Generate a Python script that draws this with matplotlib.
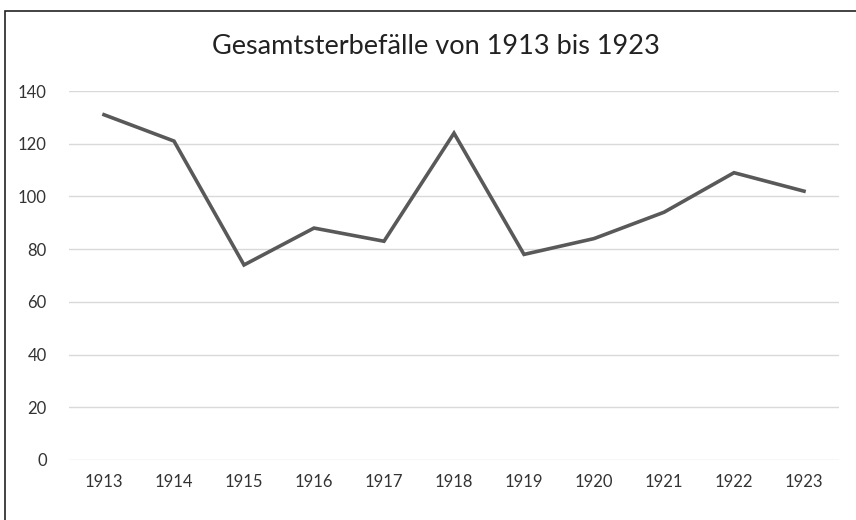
import matplotlib
matplotlib.use("Agg")
import matplotlib.pyplot as plt
from matplotlib.patches import Rectangle

years = ["1913", "1914", "1915", "1916", "1917", "1918", "1919", "1920", "1921", "1922", "1923"]
deaths = [131, 121, 74, 88, 83, 124, 78, 84, 94, 109, 102]
yticks = [0, 20, 40, 60, 80, 100, 120, 140]

plt.rcParams['font.family'] = ['Lato', 'DejaVu Sans']

W, H = 856, 520
fig = plt.figure(figsize=(W / 100, H / 100), dpi=100)
fig.patch.set_facecolor("white")

# outer frame
fig.patches.append(Rectangle((5 / W, -0.1), 1.2, (H - 11) / H + 0.1, transform=fig.transFigure,
                             fill=False, edgecolor="#222222", linewidth=1.2))

left, right = 69 / W, 839 / W
bottom, top = 1 - 460 / H, 1 - 91 / H
ax = fig.add_axes([left, bottom, right - left, top - bottom])

x = list(range(len(years)))
ax.plot(x, deaths, color="#595959", linewidth=2.6, solid_joinstyle="miter")

ax.set_xlim(-0.5, len(years) - 0.5)
ax.set_ylim(0, 140)
ax.set_yticks(yticks)
ax.set_xticks(x)
ax.set_xticklabels(years)
ax.grid(axis="y", color="#d9d9d9", linewidth=1)
ax.set_axisbelow(True)
for s in ax.spines.values():
    s.set_visible(False)
ax.tick_params(length=0, labelsize=12, labelcolor="#333333")
ax.tick_params(axis="y", pad=16)
ax.tick_params(axis="x", pad=10)

fig.text(436 / W, 1 - 47 / H, "Gesamtsterbefälle von 1913 bis 1923", ha="center", va="center",
         fontsize=19.5, color="#222222")

fig.savefig("out.png", dpi=100)
